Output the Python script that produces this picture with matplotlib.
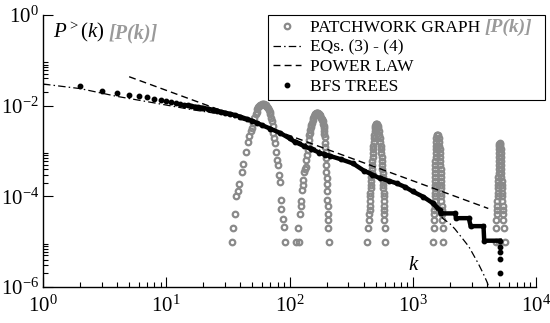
import matplotlib
matplotlib.use("Agg")
import matplotlib.pyplot as plt
from matplotlib.ticker import FixedLocator, LogLocator, NullFormatter

plt.rcParams['font.family'] = 'Liberation Serif'
plt.rcParams['mathtext.fontset'] = 'custom'
plt.rcParams['mathtext.rm'] = 'Liberation Serif'
plt.rcParams['mathtext.it'] = 'Liberation Serif:italic'
plt.rcParams['axes.unicode_minus'] = False

# ---- patchwork graph P(k), one peak per list
pw1_k = [34, 35, 36, 37, 38, 39, 41, 42, 44, 46, 47, 49, 50, 51, 52, 53, 54, 55, 56, 57,
         58, 59, 60, 61, 62, 63, 64, 65, 66, 67, 68, 69, 70, 71, 72, 73, 74, 75, 76, 78,
         79, 81, 82, 84, 85, 86, 89, 90, 92]
pw1_p = [1e-5, 2e-5, 4e-5, 1e-4, 1.3e-4, 1.9e-4, 3.5e-4, 5.2e-4, 9.5e-4, 1.6e-3, 2.1e-3,
         2.8e-3, 3.2e-3, 4.1e-3, 5.3e-3, 6.5e-3, 7.3e-3, 8.3e-3, 9.3e-3, 9.8e-3, 1.03e-2,
         1.05e-2, 1.07e-2, 1.07e-2, 1.07e-2, 1.05e-2, 1.03e-2, 9.9e-3, 9.5e-3, 9.0e-3,
         8.0e-3, 7.2e-3, 6.5e-3, 5.3e-3, 4.5e-3, 3.6e-3, 2.5e-3, 1.9e-3, 1.5e-3, 9.5e-4,
         6.3e-4, 4.9e-4, 3e-4, 2.1e-4, 8.3e-5, 5.2e-5, 3.1e-5, 2.1e-5, 1e-5]

pw2_k = [112, 119, 118, 121, 124, 125, 127, 128, 129, 131, 133, 135, 137, 139, 141, 142,
         144, 145, 146, 147, 149, 150, 152, 154, 156, 158, 160, 162, 164, 166, 168, 170,
         172, 174, 176, 178, 180, 182, 184, 186, 188, 189, 190, 191, 192, 193, 194, 195,
         196, 197, 198, 199, 200, 201, 202, 203, 204, 205, 206, 207, 208]
pw2_p = [1e-5, 1e-5, 2e-5, 4e-5, 6e-5, 8e-5, 1.4e-4, 1.8e-4, 2.3e-4, 3.4e-4, 4e-4, 4.5e-4,
         6.3e-4, 8e-4, 1.05e-3, 1.35e-3, 1.75e-3, 2.2e-3, 2.5e-3, 2.9e-3, 3.4e-3, 3.8e-3,
         4.1e-3, 4.8e-3, 5.3e-3, 5.9e-3, 6.4e-3, 6.7e-3, 6.9e-3, 7.0e-3, 6.95e-3, 6.8e-3,
         6.6e-3, 6.4e-3, 6.2e-3, 5.8e-3, 5.4e-3, 5.1e-3, 4.8e-3, 4.5e-3, 4.0e-3, 3.6e-3,
         3.2e-3, 2.8e-3, 2.4e-3, 2.0e-3, 1.5e-3, 1.2e-3, 9.5e-4, 7e-4, 5e-4, 3.5e-4,
         2.5e-4, 1.9e-4, 1.3e-4, 8.3e-5, 6e-5, 4e-5, 3e-5, 2e-5, 1e-5]

pw3_k = [427, 435, 440, 444, 446, 448, 450, 452, 454, 456, 458, 460, 462, 464, 466, 468,
         470, 472, 474, 476, 478, 481, 484, 487, 490, 494, 498, 503, 508,
         514, 520, 526, 532, 537, 541, 545, 549, 552, 555, 558, 561, 564, 567, 569, 571,
         573, 575, 577, 579, 581, 583, 585, 586, 588, 589, 591, 593]
pw3_p = [1e-5, 2e-5, 3e-5, 4e-5, 5e-5, 6e-5, 8e-5, 1e-4, 1.2e-4, 1.5e-4, 1.8e-4, 2.2e-4,
         2.7e-4, 3.3e-4, 4e-4, 5e-4, 6e-4, 7.5e-4, 9e-4, 1.1e-3, 1.3e-3, 1.6e-3, 1.9e-3,
         2.3e-3, 2.7e-3, 3.2e-3, 3.6e-3, 3.9e-3, 4.0e-3,
         3.9e-3, 3.6e-3, 3.2e-3, 2.7e-3, 2.3e-3, 1.9e-3, 1.6e-3, 1.3e-3, 1.1e-3, 9e-4,
         7.5e-4, 6e-4, 5e-4, 4e-4, 3.3e-4, 2.7e-4, 2.2e-4, 1.8e-4, 1.5e-4, 1.2e-4, 1e-4,
         8e-5, 6e-5, 5e-5, 4e-5, 3e-5, 2e-5, 1e-5]

pw4_k = [1465, 1478, 1488, 1495, 1500, 1503, 1506, 1508, 1510, 1512, 1514, 1516, 1518,
         1520, 1523, 1526, 1529, 1532, 1535, 1539, 1543, 1549, 1556, 1566, 1585,
         1604, 1618, 1630, 1642, 1652, 1660, 1667, 1673, 1678, 1683, 1687, 1691, 1694,
         1697, 1700, 1703, 1706, 1710, 1715, 1720, 1727, 1735, 1748, 1765]
pw4_p = [1e-5, 2e-5, 3e-5, 4e-5, 5e-5, 6e-5, 8e-5, 1e-4, 1.2e-4, 1.5e-4, 1.8e-4, 2.2e-4,
         2.7e-4, 3.3e-4, 4e-4, 5e-4, 6e-4, 7.5e-4, 9e-4, 1.1e-3, 1.3e-3, 1.6e-3, 1.9e-3,
         2.2e-3, 2.3e-3,
         2.2e-3, 1.9e-3, 1.6e-3, 1.3e-3, 1.1e-3, 9e-4, 7.5e-4, 6e-4, 5e-4, 4e-4, 3.3e-4,
         2.7e-4, 2.2e-4, 1.8e-4, 1.5e-4, 1.2e-4, 1e-4, 8e-5, 6e-5, 5e-5, 4e-5, 3e-5,
         2e-5, 1e-5]

pw5_k = [4760, 4990, 4770, 4775, 4785, 4800, 4820, 4850, 4880, 4905, 4925, 4940, 4950,
         4958, 4965, 4972, 4980, 4988, 4996, 5005, 5015, 5030, 5055, 5085,
         5120, 5150, 5170, 5185, 5197, 5207, 5215, 5222, 5230, 5240, 5250, 5262, 5275,
         5290, 5305, 5325, 5350, 5370, 5390, 5410, 5450, 5580]
pw5_p = [1e-5, 1e-5, 2e-5, 3e-5, 4e-5, 5e-5, 6e-5, 8e-5, 1e-4, 1.2e-4, 1.5e-4, 1.8e-4,
         2.2e-4, 2.7e-4, 3.3e-4, 4e-4, 5e-4, 6e-4, 7.5e-4, 9e-4, 1.1e-3, 1.3e-3, 1.45e-3,
         1.5e-3,
         1.45e-3, 1.3e-3, 1.1e-3, 9e-4, 7.5e-4, 6e-4, 5e-4, 4e-4, 3.3e-4, 2.7e-4, 2.2e-4,
         1.8e-4, 1.5e-4, 1.2e-4, 1e-4, 8e-5, 6e-5, 5e-5, 4e-5, 3e-5, 2e-5, 1e-5]

# ---- BFS trees P>(k)
bfs_k = [2, 3, 4, 5, 6, 7, 8, 9, 10, 11, 12, 13, 14, 15,
         16, 17, 18, 19, 20, 22, 24, 26, 28, 30, 33, 36, 40, 45, 50, 55, 60, 70, 84, 100,
         110, 130, 150, 175, 194, 212, 260, 328, 400, 470, 541, 640, 740, 870, 1000,
         1214, 1464, 1660, 1680, 2200, 2250, 2850, 2950, 3750, 3800, 5080,
         5100, 5100, 5100, 5100]
bfs_p = [0.0271, 0.0211, 0.0187, 0.0175, 0.0163, 0.0153, 0.0143, 0.0133, 0.0127, 0.0121,
         0.0116, 0.0111, 0.0106, 0.0101,
         0.0098, 0.0095, 0.0093, 0.0091, 0.0089, 0.0085, 0.0081, 0.0077, 0.0073, 0.0070,
         0.0066, 0.0062, 0.0057, 0.0051, 0.0046, 0.0041, 0.0037, 0.0031, 0.0025, 0.0019,
         0.0016, 0.0013, 0.0011, 0.00092, 0.00082, 0.00078, 0.00066, 0.00053, 0.00037,
         0.00030, 0.00025, 0.00022, 0.000194, 0.000160, 0.000128, 9.8e-5, 7.0e-5, 5.0e-5,
         4.2e-5, 4.2e-5, 3.3e-5, 3.3e-5, 2.2e-5, 2.2e-5, 1.05e-5, 1.05e-5,
         7.8e-6, 6.0e-6, 4.1e-6, 2.0e-6]
n_sparse = 14   # first dots are well separated
n_tail = 4      # last isolated dots

# ---- EQs (3)-(4)
eq_k = [1, 2, 4, 8, 16, 30, 60, 100, 200, 400, 700, 1000, 1300, 1500, 1765, 2000, 2200,
        2850, 3400, 3725, 4000, 4200]
eq_p = [0.030, 0.0238, 0.0160, 0.0115, 0.0082, 0.0063, 0.0036, 0.0020, 0.00090, 0.00040,
        0.00021, 0.000135, 8.5e-5, 5.8e-5, 3.2e-5, 2.5e-5, 1.9e-5, 7.8e-6, 3.3e-6, 2.0e-6,
        1.3e-6, 9e-7]

# ---- power law
pl_k = [5, 4100]
pl_p = [0.0435, 5.4e-5]

gray = '#8a8a8a'

fig = plt.figure(figsize=(5.5, 3.23), dpi=100)
ax = fig.add_axes([43/550, 1-287/323, (536-43)/550, (287-15)/323])

pw_k = pw1_k + pw2_k + pw3_k + pw4_k + pw5_k
pw_p = pw1_p + pw2_p + pw3_p + pw4_p + pw5_p
hpw, = ax.plot(pw_k, pw_p, 'o', ms=4.0, mfc='none', mec=gray, mew=1.6, ls='none',
               label='PATCHWORK GRAPH', zorder=2)
heq, = ax.plot(eq_k, eq_p, color='black', lw=0.9, ls=(0, (6, 2.5, 1.2, 2.5)),
               label='EQs. (3) - (4)', zorder=3)
hpl, = ax.plot(pl_k, pl_p, color='black', lw=1.0, ls=(0, (5, 3)),
               label='POWER LAW', zorder=3)
ax.plot(bfs_k[n_sparse - 1:len(bfs_k) - n_tail], bfs_p[n_sparse - 1:len(bfs_p) - n_tail],
        color='black', lw=3.2, solid_joinstyle='miter', zorder=4)
hbfs, = ax.plot(bfs_k, bfs_p, 'o', ms=3.2, color='black', ls='none',
                label='BFS TREES', zorder=4)

ax.set_xscale('log')
ax.set_yscale('log')
ax.set_xlim(1, 1e4)
ax.set_ylim(1e-6, 1)
for s in ['top', 'right']:
    ax.spines[s].set_visible(False)
for s in ['left', 'bottom']:
    ax.spines[s].set_linewidth(1.0)

ax.xaxis.set_major_locator(FixedLocator([1, 10, 100, 1000, 1e4]))
ax.xaxis.set_minor_locator(LogLocator(base=10, subs=range(2, 10), numticks=20))
ax.yaxis.set_major_locator(FixedLocator([1e-6, 1e-4, 1e-2, 1]))
ax.yaxis.set_minor_locator(FixedLocator([m * 10.0**e for e in (-6, -4, -2) for m in range(2, 10)]))
ax.xaxis.set_minor_formatter(NullFormatter())
ax.yaxis.set_minor_formatter(NullFormatter())
ax.tick_params(which='major', direction='in', length=7, width=0.8, labelsize=15)
ax.tick_params(which='minor', direction='in', length=3.5, width=0.8)
ax.tick_params(axis='x', which='major', pad=6)
ax.tick_params(axis='y', which='major', pad=3)

# axis labels inside the frame
ylab = ax.text(0.02, 0.919, r'$\mathit{P^{>}(k)}$', transform=ax.transAxes,
               fontsize=15, va='baseline', ha='left')
ax.annotate('[P(k)]', xy=(1, 0), xycoords=ylab, xytext=(3, 0), textcoords='offset points',
            va='bottom', ha='left', fontsize=14.5, style='italic', weight='bold', color='#9a9a9a')
ax.text(0.7505, 0.0625, 'k', transform=ax.transAxes, fontsize=15, style='italic',
        ha='center', va='baseline')

leg = ax.legend(handles=[hpw, heq, hpl, hbfs], loc='upper left', mode='expand',
                bbox_to_anchor=(268/550, 1-98/323, 277/550, 83/323),
                bbox_transform=fig.transFigure, borderaxespad=0, fontsize=12.5,
                frameon=True, fancybox=False, framealpha=1, edgecolor='black',
                borderpad=0.3, labelspacing=0.19, handlelength=1.6, handletextpad=0.5,
                numpoints=1)
leg.get_frame().set_linewidth(0.8)
leg.set_zorder(8)

fig.canvas.draw()
ax.annotate('[P(k)]', xy=(1, 0), xycoords=leg.get_texts()[0], xytext=(3, 0),
            textcoords='offset points', va='bottom', ha='left', fontsize=14,
            style='italic', weight='bold', color='#9a9a9a', zorder=10)

fig.savefig('out.png', dpi=100)
